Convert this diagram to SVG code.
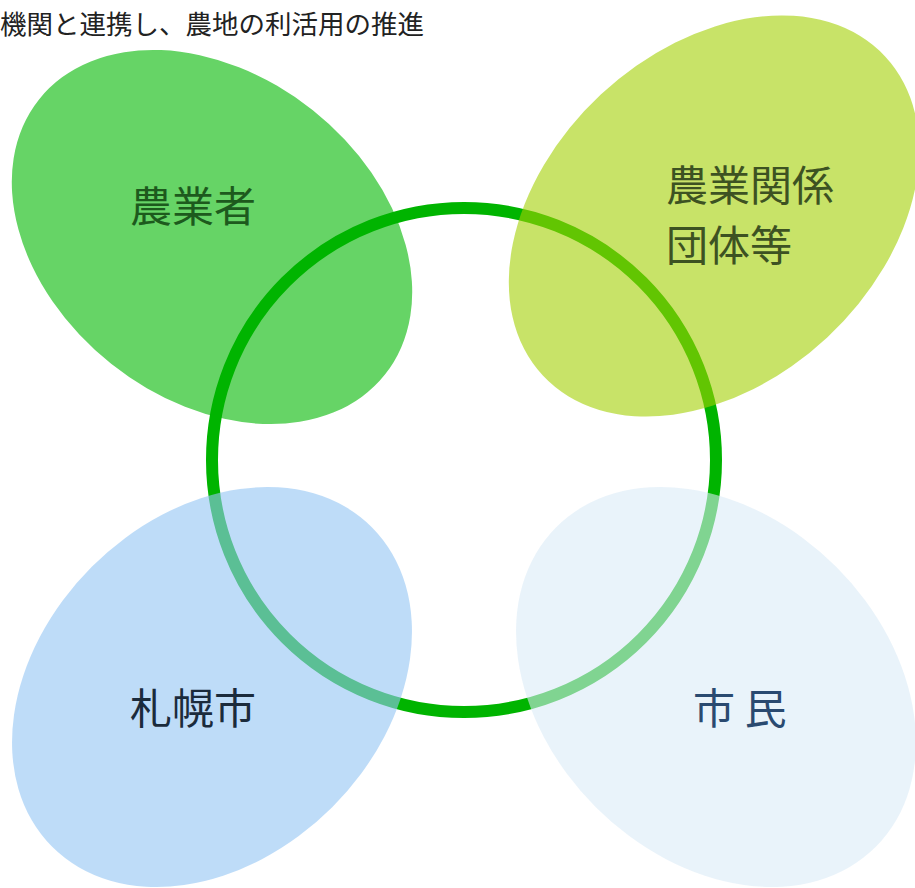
<svg xmlns="http://www.w3.org/2000/svg" width="915" height="888" viewBox="0 0 915 888">
<style>
.lbl{font-family:"Noto Sans CJK JP","Noto Sans",sans-serif;font-size:42px}
.title{font-family:"Noto Sans CJK JP","Noto Sans",sans-serif;font-size:26.5px;fill:#222}
</style>
<rect width="915" height="888" fill="#fff"/>
<text class="title" x="0" y="34">機関と連携し、農地の利活用の推進</text>
<g id="farmers">
<ellipse cx="212" cy="237" rx="221" ry="162" transform="rotate(38.5 212 237)" fill="#66d466"/>
</g>
<g id="connectors">
<circle cx="464" cy="460" r="252" fill="none" stroke="#00b400" stroke-width="12"/>
</g>
<g id="farmers-label">
<text class="lbl" x="193" y="222" text-anchor="middle" fill="#1d5a1d">農業者</text>
</g>
<g id="agri-orgs">
<ellipse cx="714" cy="216" rx="234" ry="166" transform="rotate(-43 714 216)" fill="#a3d003" fill-opacity="0.6"/>
<text class="lbl" x="666" y="201" fill="#3d5222">農業関係</text>
<text class="lbl" x="666" y="261" fill="#3d5222">団体等</text>
</g>
<g id="sapporo">
<ellipse cx="212" cy="687" rx="226" ry="170" transform="rotate(-45 212 687)" fill="#94c5f3" fill-opacity="0.61"/>
<text class="lbl" x="193" y="724" text-anchor="middle" fill="#1b2b3c">札幌市</text>
</g>
<g id="citizens">
<ellipse cx="716" cy="687" rx="226" ry="170" transform="rotate(45 716 687)" fill="#d9eaf6" fill-opacity="0.59"/>
<text class="lbl" x="693" y="724" fill="#2a4a70">市 民</text>
</g>
</svg>
